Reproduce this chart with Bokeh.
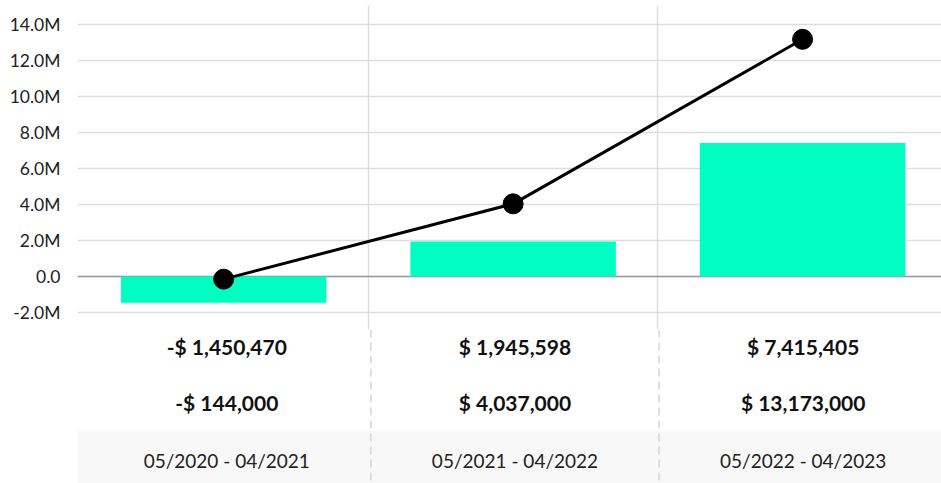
from bokeh.plotting import figure
from bokeh.layouts import column
from bokeh.models import Range1d, FixedTicker, CustomJSTickFormatter, Span, BoxAnnotation, ColumnDataSource
from bokeh.core.properties import value
from bokeh.embed import file_html
from bokeh.resources import INLINE

# ---- data ----
categories = ["05/2020 - 04/2021", "05/2021 - 04/2022", "05/2022 - 04/2023"]
bar_values = [-1450470, 1945598, 7415405]
line_values = [-144000, 4037000, 13173000]
bar_labels = ["-$ 1,450,470", "$ 1,945,598", "$ 7,415,405"]
line_labels = ["-$ 144,000", "$ 4,037,000", "$ 13,173,000"]
y_ticks = [-2e6, 0, 2e6, 4e6, 6e6, 8e6, 10e6, 12e6, 14e6]

FONT = "Lato"
BAR_COLOR = "#00FDC1"
GRID = "#dddddd"

xs = [i + 0.5 for i in range(len(categories))]
bounds = [i for i in range(1, len(categories))]

src = ColumnDataSource(dict(x=xs, bar=bar_values, line=line_values,
                            cat=categories, bl=bar_labels, ll=line_labels))

# ---- main chart ----
p = figure(width=941, height=329, output_backend="svg", toolbar_location=None,
           x_range=Range1d(-0.005, 2.98), y_range=Range1d(-2.94e6, 15.05e6),
           min_border_left=77, min_border_right=0, min_border_top=5, min_border_bottom=0)
p.outline_line_color = None
p.xaxis.visible = False
p.xgrid.ticker = FixedTicker(ticks=bounds)
p.xgrid.grid_line_color = GRID
p.xgrid.grid_line_width = 1.5
p.ygrid.grid_line_color = GRID
p.ygrid.grid_line_width = 1.5

ya = p.yaxis[0]
ya.ticker = FixedTicker(ticks=y_ticks)
ya.formatter = CustomJSTickFormatter(code="""
    if (tick == 0) { return "0.0"; }
    return (tick / 1e6).toFixed(1) + "M";
""")
ya.axis_line_color = None
ya.major_tick_line_color = None
ya.minor_tick_line_color = None
ya.major_tick_out = 0
ya.major_label_standoff = 17
ya.major_label_text_font = FONT
ya.major_label_text_font_size = "17.5px"
ya.major_label_text_color = "#222222"

zero = Span(location=0, dimension="width", line_color="#999999", line_width=1.5, level="underlay")
p.add_layout(zero)

p.vbar(x="x", top="bar", bottom=0, width=0.71, source=src, fill_color=BAR_COLOR, line_color=None)
p.line(x="x", y="line", source=src, line_color="black", line_width=3)
p.scatter(x="x", y="line", source=src, size=20, fill_color="black", line_color="black")

# ---- table below ----
t = figure(width=941, height=154, output_backend="svg", toolbar_location=None,
           x_range=Range1d(-0.018, 2.98), y_range=Range1d(0, 154),
           min_border_left=73, min_border_right=0, min_border_top=0, min_border_bottom=0)
t.outline_line_color = None
t.axis.visible = False
t.grid.visible = False

band = BoxAnnotation(bottom=0, top=53, fill_color="#f8f8f8", fill_alpha=1, line_color=None, level="underlay")
t.add_layout(band)
for b in bounds:
    t.add_layout(Span(location=b, dimension="height", line_color="#d6d6d6",
                      line_width=1.5, line_dash="8 5"))

t.text(x="x", y=137, text="bl", source=src, text_font=value(FONT), text_font_style="bold",
       text_font_size="21px", text_align="center", text_baseline="middle", text_color="#111111")
t.text(x="x", y=81, text="ll", source=src, text_font=value(FONT), text_font_style="bold",
       text_font_size="21px", text_align="center", text_baseline="middle", text_color="#111111")
t.text(x="x", y=23, text="cat", source=src, text_font=value(FONT),
       text_font_size="19px", text_align="center", text_baseline="middle", text_color="#222222")

layout = column(p, t, spacing=0)
open("out.html", "w").write(file_html(layout, INLINE))
